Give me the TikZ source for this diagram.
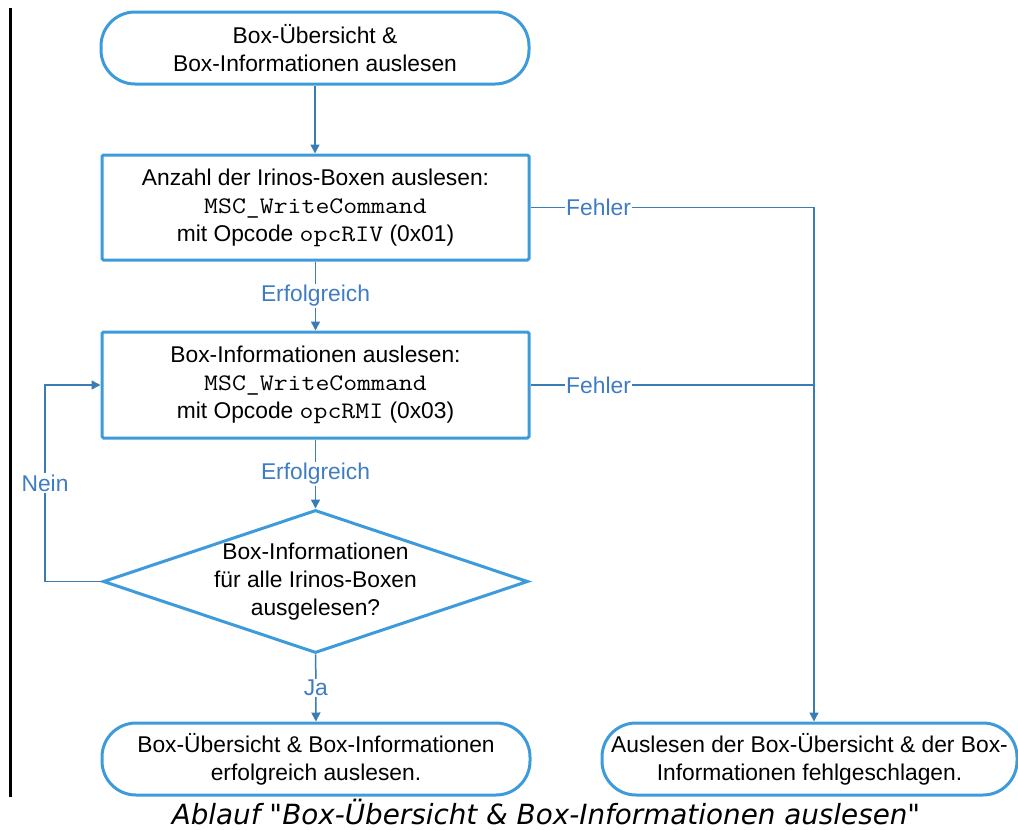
\documentclass[tikz,border=0pt]{standalone}
\usepackage{fontspec}
\setmainfont{Liberation Sans}
\setmonofont{Latin Modern Mono}[FakeStretch=1.14]
\newfontfamily\capfont{DejaVu Sans}
\usetikzlibrary{shapes.geometric,arrows.meta}
\definecolor{shapeblue}{HTML}{3D9BDB}
\definecolor{lineblue}{HTML}{3A7DB5}
\definecolor{labelblue}{HTML}{3F7CC4}
\newcommand\mycode[1]{{\ttfamily\fontsize{23.7}{28}\selectfont #1}}
\begin{document}
\begin{tikzpicture}[x=1pt,y=-1pt,
  txt/.style={font=\fontsize{22.8}{28}\selectfont, align=center, text=black},
  term/.style={txt, draw=shapeblue, line width=3pt, rounded corners=34pt, inner sep=0pt, minimum height=72pt},
  proc/.style={txt, draw=shapeblue, line width=3pt, rounded corners=1.5pt, inner sep=0pt, minimum width=427pt, minimum height=105pt},
  decbox/.style={draw=shapeblue, line width=3pt, diamond, inner sep=0pt, minimum width=425pt, minimum height=143pt},
  conn/.style={draw=lineblue, line width=1.5pt},
  arr/.style={-{Triangle[length=9pt,width=9pt]}},
  lbl/.style={font=\fontsize{22.8}{28}\selectfont, text=labelblue, fill=white, inner sep=1.5pt}
]
\useasboundingbox (0,0) rectangle (1018,830);
\draw[line width=3.5pt, black] (10.5,8) -- (10.5,797);

\node[term, minimum width=428pt] (start) at (315,48) {Box-Übersicht \&\\Box-Informationen auslesen};
\node[proc] (box1) at (315.5,207.5) {Anzahl der Irinos-Boxen auslesen:\\\mycode{MSC\_WriteCommand}\\mit Opcode \mycode{opcRIV} (0x01)};
\node[proc, minimum height=106pt] (box2) at (315.5,385) {Box-Informationen auslesen:\\\mycode{MSC\_WriteCommand}\\mit Opcode \mycode{opcRMI} (0x03)};
\node[decbox] (dec) at (315.5,581.5) {};
\node[txt] (dectext) at (dec.center) {Box-Informationen\\für alle Irinos-Boxen\\ausgelesen?};
\node[term, minimum width=428pt] (ok) at (316,759) {Box-Übersicht \& Box-Informationen\\erfolgreich auslesen.};
\node[term, minimum width=415pt] (fail) at (809.5,759) {Auslesen der Box-Übersicht \& der Box-\\Informationen fehlgeschlagen.};

\node[font=\capfont\itshape\fontsize{27.8}{32}\selectfont, anchor=base, inner sep=0pt] (cap) at (546,824) {Ablauf "Box-Übersicht \& Box-Informationen auslesen"};

\coordinate (rail) at (814,0);
\coordinate (loopx) at (45,0);

\draw[conn,arr] (start.south) -- (start.south |- box1.north);
\draw[conn,arr] (box1) -- node[lbl] (l1) {Erfolgreich} (box2);
\draw[conn,arr] (box2) -- node[lbl] (l2) {Erfolgreich} (dec);
\draw[conn,arr] (dec) -- node[lbl] (l3) {Ja} (ok);
\draw[conn,arr] (box1.east) -- node[lbl,pos=0.24] (l4) {Fehler} (box1.east -| rail) -- (fail.north -| rail);
\draw[conn] (box2.east) -- node[lbl,pos=0.24] (l5) {Fehler} (box2.east -| rail);
\draw[conn,arr] (dec.west) -- (dec.west -| loopx) -- node[lbl] (l6) {Nein} (box2.west -| loopx) -- (box2.west);
\end{tikzpicture}
\end{document}
